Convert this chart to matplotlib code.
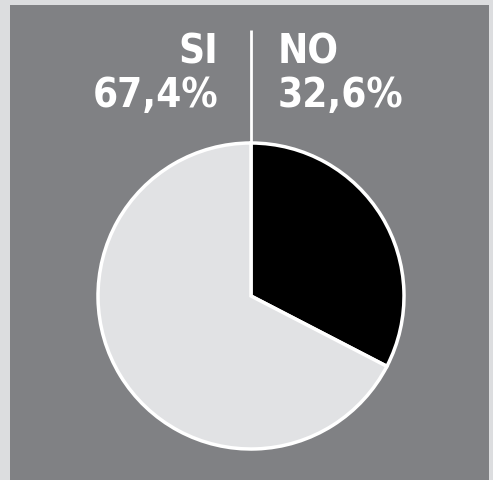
import matplotlib.pyplot as plt
from matplotlib.patches import Rectangle

labels = ['NO', 'SI']
values = [32.6, 67.4]
colors = ['#000000', '#e1e2e4']

W, H = 493, 480
fig = plt.figure(figsize=(W / 100, H / 100), dpi=100, facecolor='#dcdddf')
ax = fig.add_axes([0, 0, 1, 1])
ax.set_facecolor('#dcdddf')

# dark panel
ax.add_patch(Rectangle((10, 0), 479, 475, facecolor='#808184', edgecolor='none', zorder=0))

ax.pie(values, colors=colors, startangle=90, counterclock=False,
       center=(251, 184), radius=153,
       wedgeprops=dict(edgecolor='white', linewidth=2.5))

# divider line above the pie
ax.plot([251, 251], [337, 450], color='white', lw=2, solid_capstyle='butt', zorder=3)

font = dict(family='DejaVu Sans', fontstretch='condensed', fontweight='bold',
            color='white', fontsize=29, va='baseline')
ax.text(218, 417, labels[1], ha='right', **font)
ax.text(218, 373, f'{values[1]:.1f}%'.replace('.', ','), ha='right', **font)
ax.text(278, 417, labels[0], ha='left', **font)
ax.text(278, 373, f'{values[0]:.1f}%'.replace('.', ','), ha='left', **font)

ax.set_xlim(0, W)
ax.set_ylim(0, H)
ax.set_aspect('auto')
ax.axis('off')

fig.savefig('out.png', dpi=100, facecolor=fig.get_facecolor())
